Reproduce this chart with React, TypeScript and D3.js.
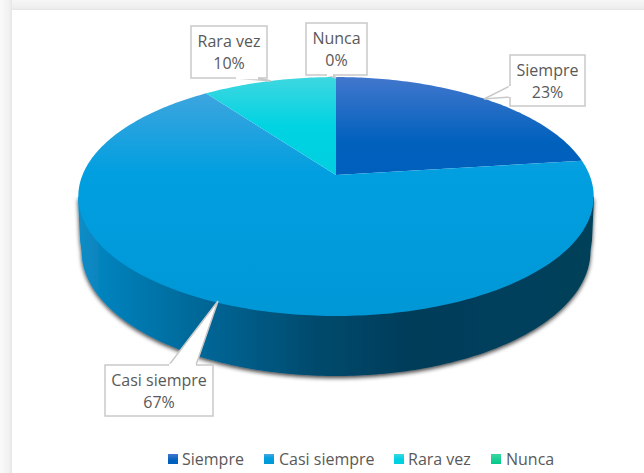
import React from "react";
import * as d3 from "d3";

const categories = ["Siempre", "Casi siempre", "Rara vez", "Nunca"];
const values = [23, 67, 10, 0];
const percentLabels = ["23%", "67%", "10%", "0%"];

const W = 644, H = 473;
const FONT = "'Open Sans', sans-serif";
const TEXT = "#595959";

// perspective projection of the pie's unit circle onto the screen
const CX = 336, CY = 175, A = 253.5, B = 115.6, K = -0.18;
const project = (t: number): [number, number] => {
  const u = Math.sin(t), v = -Math.cos(t), w = 1 + K * v;
  return [CX + (A * u) / w, CY + (B * v) / w];
};

const faceStops = [
  [["0%", "#4277cd"], ["65%", "#0061bd"], ["100%", "#005fbc"]],
  [["0%", "#4aa6de"], ["40%", "#019fe0"], ["100%", "#0097d6"]],
  [["0%", "#3ed7e0"], ["50%", "#00d3e2"], ["100%", "#00cfe0"]],
  [["0%", "#3cd8a0"], ["100%", "#00c88a"]],
];
const faceRanges = [[77, 177], [77, 316], [77, 177], [77, 177]];
const wallStops: [string, string][] = [
  ["0%", "#0a8cc6"], ["6%", "#0480ba"], ["18%", "#006fa2"], ["30%", "#005f8c"],
  ["46%", "#004a6d"], ["65%", "#003c59"], ["85%", "#00405c"], ["100%", "#003f58"],
];

const callouts = [
  { x: 510, y: 55, w: 75, h: 51, tail: [[510, 86], [484, 99], [510, 97]] },
  { x: 105, y: 365, w: 108, h: 51, tail: [[169, 365], [218, 301], [196, 365]] },
  { x: 191, y: 26, w: 76, h: 52, tail: [[236, 78], [271, 81], [258, 78]] },
  { x: 306, y: 23, w: 61, h: 52, tail: [[327, 75], [336, 78], [333, 75]] },
];
const legendSwatchX = [168, 264, 394, 491];
const legendTextX = [182, 279, 408, 506];

export default function App() {
  const pie = d3.pie<number>().sort(null).startAngle(0).endAngle(2 * Math.PI);
  const arcs = pie(values);
  const line = d3.line();

  const slicePath = (a: d3.PieArcDatum<number>) => {
    const n = Math.max(2, Math.ceil((a.endAngle - a.startAngle) * 60));
    const pts = d3.range(n + 1).map((i) =>
      project(a.startAngle + ((a.endAngle - a.startAngle) * i) / n)
    );
    return line([[CX, CY], ...pts]) + "Z";
  };

  // side wall: from the top rim's extremes down around the lower rim
  const lowerCy = 251, lowerRx = 254.5, lowerRy = 125;
  const wallPts: [number, number][] = d3.range(0, 181).map((d) => {
    const r = (d * Math.PI) / 180;
    return [CX + lowerRx * Math.cos(r), lowerCy + lowerRy * Math.sin(r)];
  });
  const wallPath = line([[594, 197], [592, 240], ...wallPts, [80, 240], [78, 197]]) + "Z";

  return (
    <svg width={W} height={H} style={{ position: "absolute", left: 0, top: 0 }} fontFamily={FONT}>
      <defs>
        <linearGradient id="wall" gradientUnits="userSpaceOnUse" x1={80} x2={592} y1={0} y2={0}>
          {wallStops.map(([o, c]) => <stop key={o} offset={o} stopColor={c} />)}
        </linearGradient>
        {faceStops.map((st, i) => (
          <linearGradient key={i} id={`face${i}`} gradientUnits="userSpaceOnUse" x1={0} x2={0} y1={faceRanges[i][0]} y2={faceRanges[i][1]}>
            {st.map(([o, c]) => <stop key={o} offset={o} stopColor={c} />)}
          </linearGradient>
        ))}
        <filter id="shadow" x="-10%" y="-10%" width="120%" height="125%">
          <feDropShadow dx={0} dy={2} stdDeviation={2} floodColor="#000" floodOpacity={0.75} />
        </filter>
        <linearGradient id="bandTop" x1={0} x2={0} y1={0} y2={1}>
          <stop offset="0%" stopColor="#f6f6f6" />
          <stop offset="70%" stopColor="#efefef" />
          <stop offset="100%" stopColor="#e6e6e6" />
        </linearGradient>
        <linearGradient id="bandLeft" x1={0} x2={1} y1={0} y2={0}>
          <stop offset="0%" stopColor="#fafafa" />
          <stop offset="70%" stopColor="#f2f2f2" />
          <stop offset="100%" stopColor="#e6e6e6" />
        </linearGradient>
      </defs>

      <rect width={W} height={H} fill="#fff" />
      <rect width={W} height={10} fill="url(#bandTop)" />
      <rect y={0} width={12} height={H} fill="url(#bandLeft)" />

      <path d={wallPath} fill="url(#wall)" filter="url(#shadow)" />

      {arcs.map((a, i) =>
        a.endAngle > a.startAngle ? (
          <path key={categories[i]} d={slicePath(a)} fill={`url(#face${i})`} />
        ) : null
      )}

      {callouts.map((c, i) => (
        <g key={categories[i]}>
          <rect x={c.x} y={c.y} width={c.w} height={c.h} fill="#fff" stroke="#c9c9c9" strokeWidth={1.5} />
          <path d={line(c.tail as [number, number][]) + "Z"} fill="#fff" stroke="#c9c9c9" strokeWidth={1.5} strokeLinejoin="miter" />
          <path d={line([c.tail[0], c.tail[2]] as [number, number][])!} stroke="#fff" strokeWidth={2.5} />
          <text x={c.x + c.w / 2} y={c.y + 21} textAnchor="middle" fontSize={16} fill={TEXT}>{categories[i]}</text>
          <text x={c.x + c.w / 2} y={c.y + 43} textAnchor="middle" fontSize={16} fill={TEXT}>{percentLabels[i]}</text>
        </g>
      ))}

      {categories.map((cat, i) => (
        <g key={cat}>
          <rect x={legendSwatchX[i]} y={454} width={10} height={10} fill={`url(#legend${i})`} />
          <linearGradient id={`legend${i}`} x1={0} x2={0} y1={0} y2={1}>
            {faceStops[i].map(([o, c]) => <stop key={o} offset={o} stopColor={c} />)}
          </linearGradient>
          <text x={legendTextX[i]} y={465} fontSize={16} fill={TEXT}>{cat}</text>
        </g>
      ))}
    </svg>
  );
}
